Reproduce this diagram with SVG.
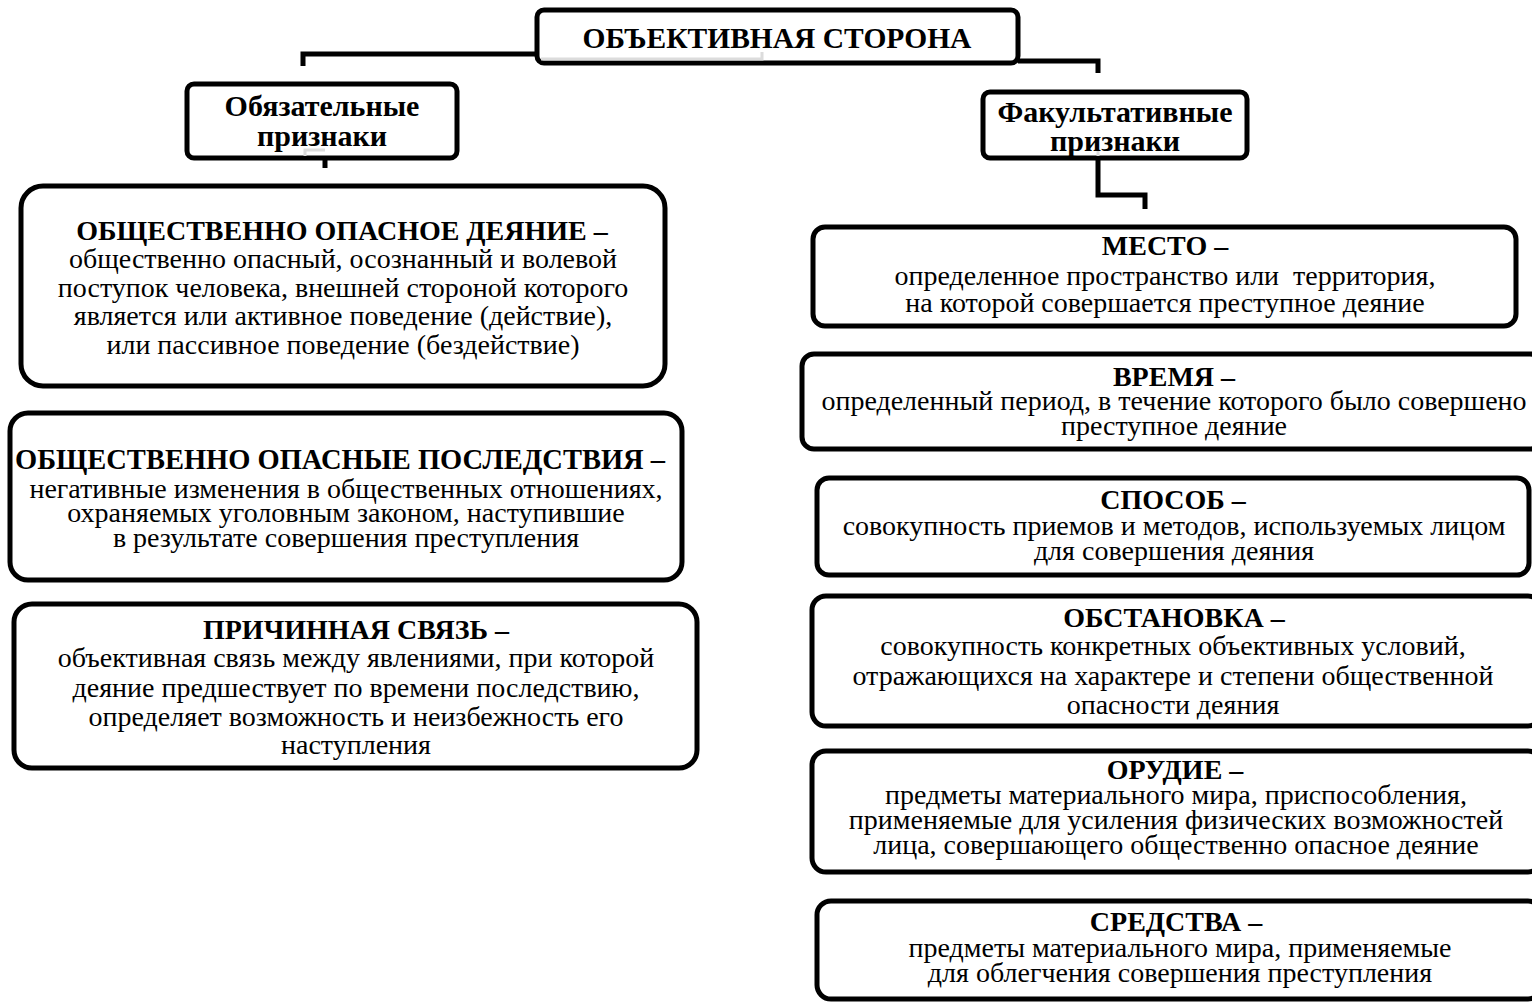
<svg xmlns="http://www.w3.org/2000/svg" width="1532" height="1002" viewBox="0 0 1532 1002">
<style>
.bx{fill:#fff;stroke:#000;stroke-width:5}
.cn{fill:none;stroke:#000;stroke-width:5;stroke-linejoin:miter}
.gr{fill:none;stroke:#dcdcdc;stroke-width:3}
text{font-family:"Liberation Serif","Times New Roman",serif;fill:#000;text-anchor:middle}
.h{font-weight:bold;font-size:28px}
.t{font-size:28px}
.s{font-weight:bold;font-size:30px}
.top{font-weight:bold;font-size:29.5px}
</style>
<rect width="1532" height="1002" fill="#fff"/>
<g id="connectors">
<path class="cn" d="M537,54 H303 V66"/>
<path class="cn" d="M1018,61 H1098 V73"/>
<path class="cn" d="M325,158 V168"/>
<path class="cn" d="M1098,158 V195 H1145 V209"/>
</g>
<g id="top">
<rect class="bx" x="537" y="10" width="481" height="53" rx="7"/>
<path class="gr" d="M541,59 H762 V52"/>
<text class="top" x="777" y="48">ОБЪЕКТИВНАЯ СТОРОНА</text>
</g>
<g id="obyaz">
<rect class="bx" x="187" y="84" width="270" height="74" rx="7"/>
<path class="gr" d="M305,156 V150 H325"/>
<text class="s" x="322" y="116">Обязательные</text>
<text class="s" x="322" y="146">признаки</text>
</g>
<g id="fakult">
<rect class="bx" x="983" y="92" width="264" height="66" rx="7"/>
<path class="gr" d="M1098,151 V156"/>
<text class="s" x="1115" y="122">Факультативные</text>
<text class="s" x="1115" y="151">признаки</text>
</g>
<g id="deyanie">
<rect class="bx" x="21" y="186" width="644" height="200" rx="22"/>
<text class="h" x="342" y="240">ОБЩЕСТВЕННО ОПАСНОЕ ДЕЯНИЕ –</text>
<text class="t" x="343" y="268">общественно опасный, осознанный и волевой</text>
<text class="t" x="343" y="297">поступок человека, внешней стороной которого</text>
<text class="t" x="343" y="325">является или активное поведение (действие),</text>
<text class="t" x="343" y="354">или пассивное поведение (бездействие)</text>
</g>
<g id="posledstviya">
<rect class="bx" x="10" y="413" width="672" height="167" rx="18"/>
<text class="h" x="340" y="469" style="font-size:28.5px">ОБЩЕСТВЕННО ОПАСНЫЕ ПОСЛЕДСТВИЯ –</text>
<text class="t" x="346" y="498">негативные изменения в общественных отношениях,</text>
<text class="t" x="346" y="522">охраняемых уголовным законом, наступившие</text>
<text class="t" x="346" y="547">в результате совершения преступления</text>
</g>
<g id="svyaz">
<rect class="bx" x="14" y="604" width="683" height="164" rx="18"/>
<text class="h" x="356" y="639">ПРИЧИННАЯ СВЯЗЬ –</text>
<text class="t" x="356" y="667">объективная связь между явлениями, при которой</text>
<text class="t" x="356" y="697">деяние предшествует по времени последствию,</text>
<text class="t" x="356" y="726">определяет возможность и неизбежность его</text>
<text class="t" x="356" y="754">наступления</text>
</g>
<g id="mesto">
<rect class="bx" x="813" y="227" width="703" height="99" rx="12"/>
<text class="h" x="1165" y="255">МЕСТО –</text>
<text class="t" x="1165" y="285" xml:space="preserve">определенное пространство или  территория,</text>
<text class="t" x="1165" y="312">на которой совершается преступное деяние</text>
</g>
<g id="vremya">
<rect class="bx" x="802" y="354" width="740" height="95" rx="12"/>
<text class="h" x="1174" y="386">ВРЕМЯ –</text>
<text class="t" x="1174" y="410">определенный период, в течение которого было совершено</text>
<text class="t" x="1174" y="435">преступное деяние</text>
</g>
<g id="sposob">
<rect class="bx" x="817" y="478" width="712" height="97" rx="12"/>
<text class="h" x="1173" y="509">СПОСОБ –</text>
<text class="t" x="1174" y="535">совокупность приемов и методов, используемых лицом</text>
<text class="t" x="1174" y="560">для совершения деяния</text>
</g>
<g id="obstanovka">
<rect class="bx" x="812" y="596" width="730" height="130" rx="14"/>
<text class="h" x="1174" y="627">ОБСТАНОВКА –</text>
<text class="t" x="1173" y="655">совокупность конкретных объективных условий,</text>
<text class="t" x="1173" y="685">отражающихся на характере и степени общественной</text>
<text class="t" x="1173" y="714">опасности деяния</text>
</g>
<g id="orudie">
<rect class="bx" x="812" y="751" width="730" height="121" rx="14"/>
<text class="h" x="1175" y="779">ОРУДИЕ –</text>
<text class="t" x="1176" y="804">предметы материального мира, приспособления,</text>
<text class="t" x="1176" y="829">применяемые для усиления физических возможностей</text>
<text class="t" x="1176" y="854">лица, совершающего общественно опасное деяние</text>
</g>
<g id="sredstva">
<rect class="bx" x="817" y="901" width="725" height="98" rx="14"/>
<text class="h" x="1176" y="931">СРЕДСТВА –</text>
<text class="t" x="1180" y="957">предметы материального мира, применяемые</text>
<text class="t" x="1180" y="982">для облегчения совершения преступления</text>
</g>
</svg>
